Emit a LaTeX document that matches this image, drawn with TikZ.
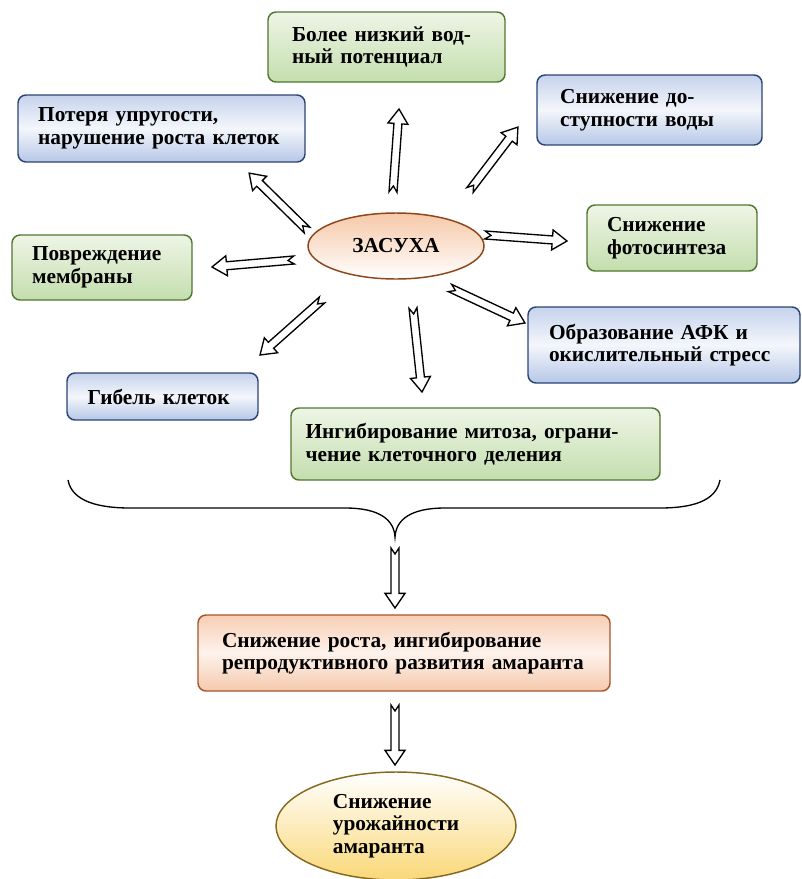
\documentclass[tikz,border=0pt]{standalone}
\usepackage{fontspec}
\setmainfont{Liberation Serif}
\usetikzlibrary{positioning,shapes.geometric,calc}

\definecolor{grline}{RGB}{80,120,48}
\definecolor{grtop}{RGB}{238,245,230}
\definecolor{grbot}{RGB}{196,222,174}
\definecolor{blline}{RGB}{44,68,116}
\definecolor{bltop}{RGB}{198,211,236}
\definecolor{blbot}{RGB}{182,199,231}
\definecolor{drline}{RGB}{140,70,25}
\definecolor{drtop}{RGB}{246,200,168}
\definecolor{orline}{RGB}{165,85,45}
\definecolor{ortop}{RGB}{248,206,180}
\definecolor{orbot}{RGB}{245,200,172}
\definecolor{yeline}{RGB}{135,105,30}
\definecolor{yebot}{RGB}{250,216,120}

\tikzset{
  every node/.style={font=\fontsize{16}{17}\selectfont\bfseries},
  box/.style={rectangle, rounded corners=6pt, line width=1.1pt, inner sep=0pt, align=left},
  greenbox/.style={box, draw=grline, top color=grtop, bottom color=grbot},
  bluebox/.style={box, draw=blline, top color=bltop, bottom color=blbot, middle color=white!80!bltop},
  orangebox/.style={box, draw=orline, top color=ortop, bottom color=orbot, middle color=white!75!ortop},
  cloud/.style={ellipse, line width=1.1pt, inner sep=0pt, align=left},
  blockarr/.style={draw=black, fill=white, line width=1pt, line join=miter},
}

% hollow arrow with a notched tail, from #1 to #2
\newcommand\blockarrow[2]{%
  \path let \p1=($(#2)-(#1)$), \n1={atan2(\y1,\x1)}, \n2={veclen(\x1,\y1)} in
    \pgfextra{\pgfmathparse{\n1}\xdef\arrang{\pgfmathresult}%
              \pgfmathparse{\n2}\xdef\arrlen{\pgfmathresult}};
  \draw[blockarr, shift={(#1)}, rotate=\arrang]
    (0pt,3pt) -- ({\arrlen pt-11pt},3pt) -- ({\arrlen pt-11pt},7.5pt) -- (\arrlen pt,0pt)
    -- ({\arrlen pt-11pt},-7.5pt) -- ({\arrlen pt-11pt},-3pt) -- (0pt,-3pt) -- (4.5pt,0pt) -- cycle;
}

\begin{document}
\begin{tikzpicture}[x=0.75pt, y=-0.75pt]
    \useasboundingbox (0,0) rectangle (801,879);

    % центр: засуха
    \node[cloud, draw=drline, top color=drtop, bottom color=white,
          minimum width=132pt, minimum height=49.5pt] (drought) at (396,246) {ЗАСУХА};

    % блоки вокруг
    \node[greenbox, minimum width=177.75pt, minimum height=52.5pt, text width=141.75pt]
        (lowpot) at (386.5,47) {Более низкий вод-\\ный потенциал};
    \node[bluebox, minimum width=168.75pt, minimum height=52.5pt, text width=134pt]
        (avail) at (649.5,110) {Снижение до-\\ступности воды};
    \node[bluebox, minimum width=215.25pt, minimum height=50.25pt, text width=185pt]
        (turgor) at (161.5,128.5) {Потеря упругости,\\нарушение роста клеток};
    \node[greenbox, minimum width=127.5pt, minimum height=49.5pt, text width=97.5pt]
        (photo) at (672,238) {Снижение\\фотосинтеза};
    \node[greenbox, minimum width=135pt, minimum height=48.75pt, text width=105pt]
        (membr) at (102,267.5) {Повреждение\\мембраны};
    \node[bluebox, minimum width=204pt, minimum height=57pt, text width=172.5pt]
        (ros) at (664,345) {Образование АФК и\\окислительный стресс};
    \node[bluebox, minimum width=143.25pt, minimum height=35.25pt, text width=112.5pt]
        (death) at (162.5,396.5) {Гибель клеток};
    \node[greenbox, minimum width=276.75pt, minimum height=54pt, text width=255pt]
        (mitosis) at (475.5,444) {Ингибирование митоза, ограни-\\чение клеточного деления};

    % итог
    \node[orangebox, minimum width=309pt, minimum height=57pt, text width=273pt]
        (growth) at (404,653) {Снижение роста, ингибирование\\репродуктивного развития амаранта};
    \node[cloud, draw=yeline, top color=white, bottom color=yebot,
          minimum width=180pt, minimum height=81pt] (yield) at (396,826)
        {Снижение\\урожайности\\амаранта\hspace*{12pt}};

    % концы стрелок
    \coordinate (t1) at (393,192);  \coordinate (h1) at (399,109);
    \coordinate (t2) at (470,190);  \coordinate (h2) at (518,127);
    \coordinate (t3) at (307,230);  \coordinate (h3) at (249,173);
    \coordinate (t4) at (485,235);  \coordinate (h4) at (567,241);
    \coordinate (t5) at (294,260);  \coordinate (h5) at (212,267);
    \coordinate (t6) at (450,288);  \coordinate (h6) at (525,323);
    \coordinate (t7) at (322,300);  \coordinate (h7) at (260,355);
    \coordinate (t8) at (413,308);  \coordinate (h8) at (422,392);
    \coordinate (t9) at (395,548);  \coordinate (h9) at (395,608);
    \coordinate (t10) at (395,705); \coordinate (h10) at (395,765);

    \foreach \i in {1,...,10}
        \blockarrow{t\i}{h\i};

    % фигурная скобка
    \coordinate (lend) at (68,480);
    \coordinate (tip) at (395,537);
    \coordinate (rend) at (720,480);
    \draw[line width=1pt] (lend) .. controls (72,502) and (100,508) .. (130,508) -- (345,508)
        .. controls (380,508) and (394,520) .. (tip)
        .. controls (396,520) and (410,508) .. (445,508) -- (660,508)
        .. controls (690,508) and (716,502) .. (rend);
\end{tikzpicture}
\end{document}
